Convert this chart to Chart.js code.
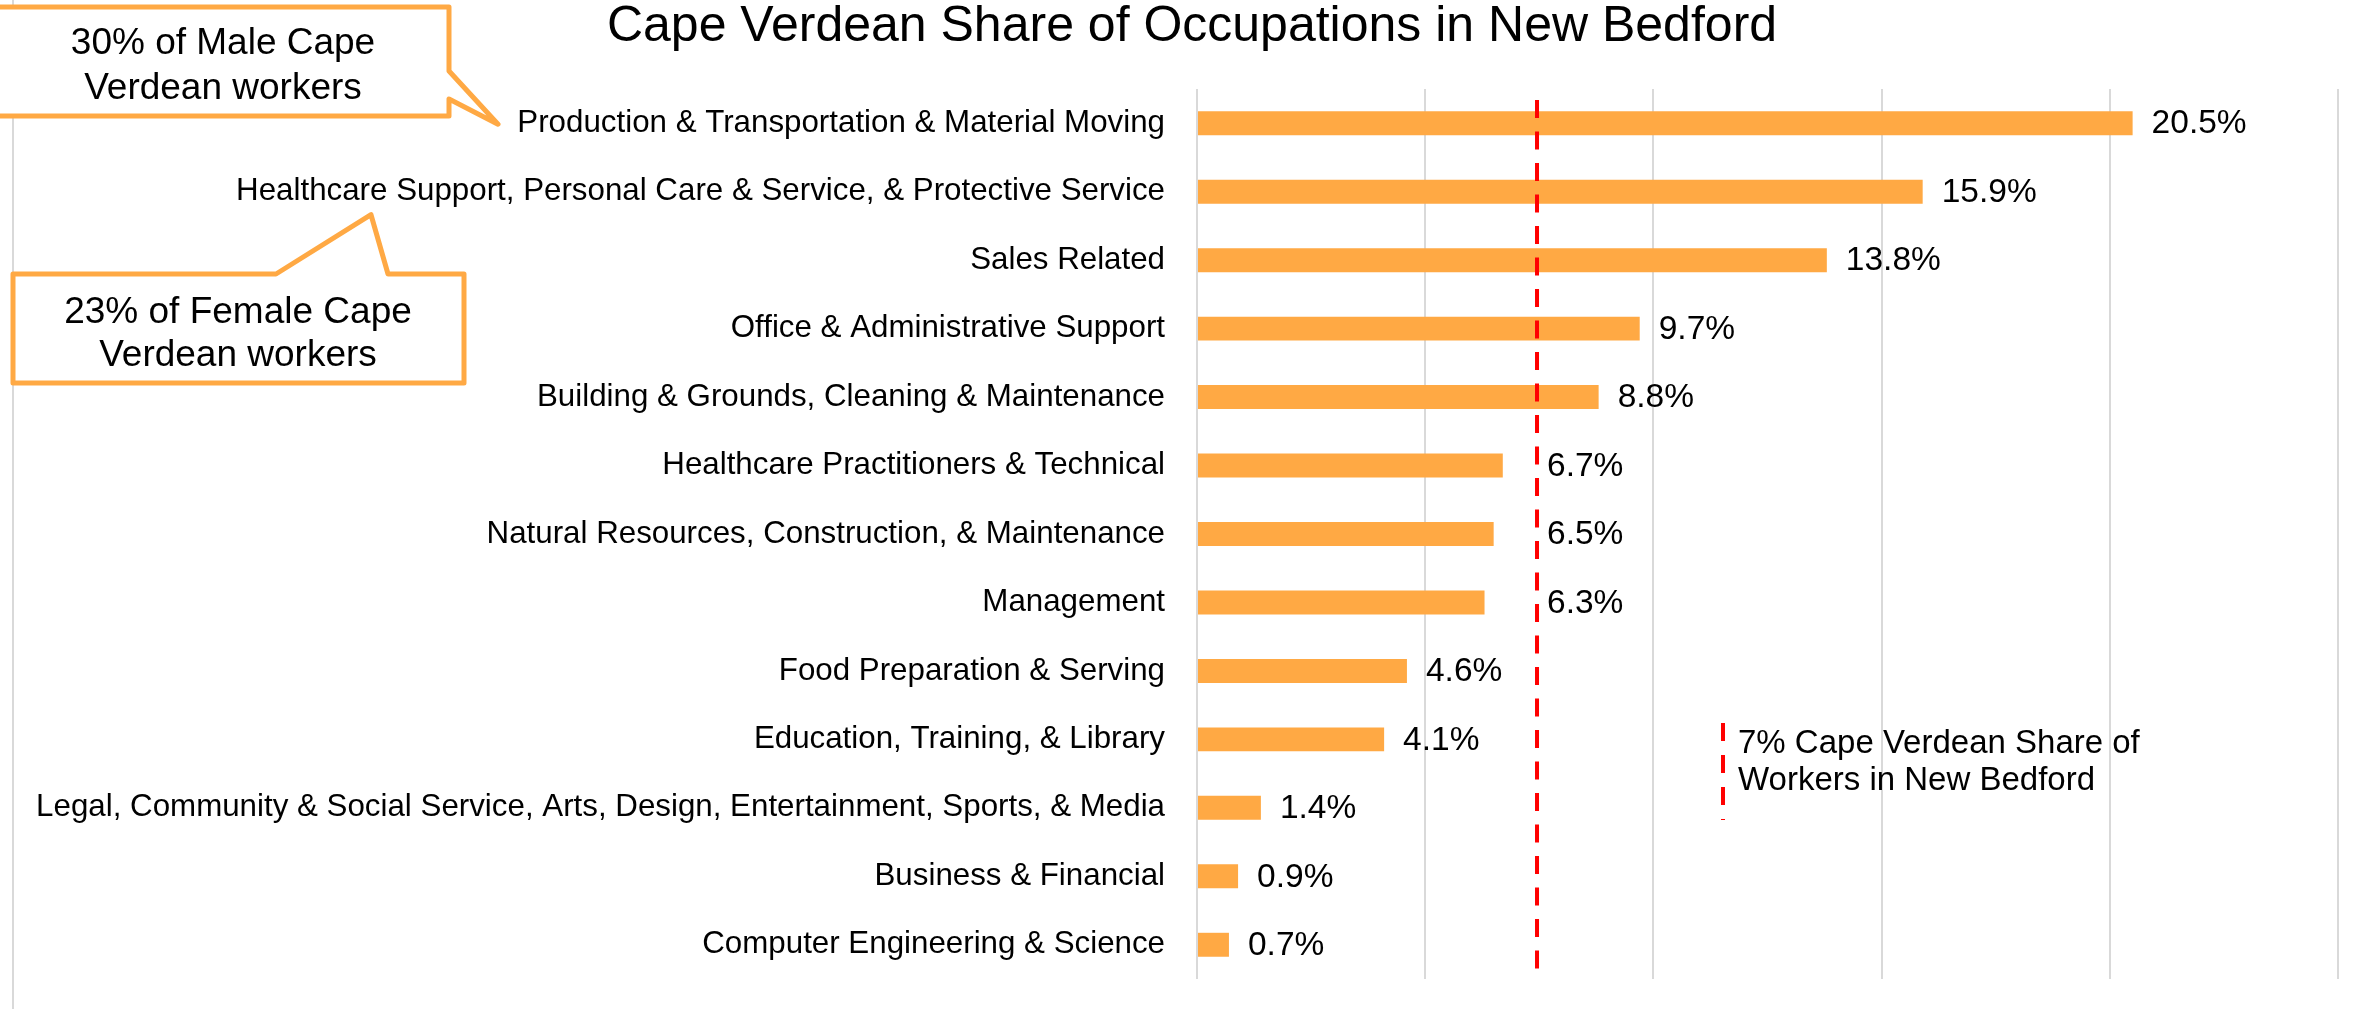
<!DOCTYPE html>
<html lang="en">
<head>
    <meta charset="UTF-8">
    <title>Cape Verdean Share of Occupations in New Bedford</title>
    <script src="https://cdn.jsdelivr.net/npm/chart.js"></script>
    <style>
        body {
            margin: 0;
            padding: 0;
            background: #fff;
        }
        .wrap {
            width: 2369px;
            height: 1009px;
        }
    </style>
</head>
<body>
    <div class="wrap">
        <canvas id="myChart" width="2369" height="1009"></canvas>
    </div>

    <script>
        const occupations = [
            "Production & Transportation & Material Moving",
            "Healthcare Support, Personal Care & Service, & Protective Service",
            "Sales Related",
            "Office & Administrative Support",
            "Building & Grounds, Cleaning & Maintenance",
            "Healthcare Practitioners & Technical",
            "Natural Resources, Construction, & Maintenance",
            "Management",
            "Food Preparation & Serving",
            "Education, Training, & Library",
            "Legal, Community & Social Service, Arts, Design, Entertainment, Sports, & Media",
            "Business & Financial",
            "Computer Engineering & Science"
        ];
        const shares = [20.5, 15.9, 13.8, 9.7, 8.8, 6.7, 6.5, 6.3, 4.6, 4.1, 1.4, 0.9, 0.7];
        const xTicks = [0, 5, 10, 15, 20, 25];

        // the dashed line sits a bit right of 7 in the picture
        const cityShare = 7.45;
        const cityShareText = ["7% Cape Verdean Share of", "Workers in New Bedford"];
        const titleText = "Cape Verdean Share of Occupations in New Bedford";
        const maleNote = ["30% of Male Cape", "Verdean workers"];
        const femaleNote = ["23% of Female Cape", "Verdean workers"];

        const FONT = '"Liberation Sans", Arial, sans-serif';
        const ORANGE = '#FFA944';

        function drawLines(ctx, lines, x, y0, step) {
            lines.forEach((t, i) => ctx.fillText(t, x, y0 + i * step));
        }

        const extras = {
            id: 'extras',
            beforeDraw(chart) {
                const ctx = chart.ctx;
                // left frame line
                ctx.save();
                ctx.strokeStyle = '#d9d9d9';
                ctx.lineWidth = 2;
                ctx.beginPath();
                ctx.moveTo(13, 0);
                ctx.lineTo(13, chart.height);
                ctx.stroke();
                ctx.restore();
            },
            afterDraw(chart) {
                const ctx = chart.ctx;
                const x = chart.scales.x;
                const y = chart.scales.y;
                const rx = x.getPixelForValue(cityShare);
                ctx.save();

                // title
                ctx.fillStyle = '#000';
                ctx.font = '50px ' + FONT;
                ctx.textAlign = 'center';
                ctx.textBaseline = 'alphabetic';
                ctx.fillText(titleText, 1192, 41);

                // value labels, pushed past the dashed line when they would touch it
                ctx.font = '33.5px ' + FONT;
                ctx.textAlign = 'left';
                ctx.textBaseline = 'middle';
                shares.forEach((v, i) => {
                    let lx = x.getPixelForValue(v) + 19;
                    if (lx < rx + 8 && lx + 70 > rx) lx = rx + 10;
                    ctx.fillText(v.toFixed(1) + '%', lx, y.getPixelForValue(i) + 1);
                });

                // city share dashed line
                ctx.strokeStyle = '#FF0000';
                ctx.lineWidth = 4;
                ctx.setLineDash([18, 13.5]);
                ctx.beginPath();
                ctx.moveTo(rx, chart.chartArea.top + 11);
                ctx.lineTo(rx, chart.chartArea.bottom - 4);
                ctx.stroke();

                // its note
                ctx.setLineDash([18, 14]);
                ctx.beginPath();
                ctx.moveTo(1723, 723);
                ctx.lineTo(1723, 820);
                ctx.stroke();
                ctx.setLineDash([]);
                ctx.font = '33px ' + FONT;
                ctx.textBaseline = 'alphabetic';
                drawLines(ctx, cityShareText, 1738, 753, 37);

                // callouts
                ctx.strokeStyle = ORANGE;
                ctx.fillStyle = '#fff';
                ctx.lineWidth = 5;
                ctx.lineJoin = 'round';
                const y0 = y.getPixelForValue(0);
                ctx.beginPath();
                ctx.moveTo(-10, 7);
                ctx.lineTo(449, 7);
                ctx.lineTo(449, 71);
                ctx.lineTo(498, y0 + 1);
                ctx.lineTo(449, 99);
                ctx.lineTo(449, 116);
                ctx.lineTo(-10, 116);
                ctx.closePath();
                ctx.fill();
                ctx.stroke();

                const y1 = y.getPixelForValue(1);
                ctx.beginPath();
                ctx.moveTo(13, 274);
                ctx.lineTo(276, 274);
                ctx.lineTo(371, y1 + 23);
                ctx.lineTo(388, 274);
                ctx.lineTo(464, 274);
                ctx.lineTo(464, 383);
                ctx.lineTo(13, 383);
                ctx.closePath();
                ctx.fill();
                ctx.stroke();

                ctx.fillStyle = '#000';
                ctx.font = '37px ' + FONT;
                ctx.textAlign = 'center';
                drawLines(ctx, maleNote, 223, 54, 45);
                drawLines(ctx, femaleNote, 238, 323, 43);

                ctx.restore();
            }
        };

        const ctx = document.getElementById('myChart').getContext('2d');
        const chart = new Chart(ctx, {
            type: 'bar',
            data: {
                labels: occupations,
                datasets: [{
                    data: shares,
                    backgroundColor: ORANGE,
                    borderWidth: 0,
                    barPercentage: 0.35,
                    categoryPercentage: 1
                }]
            },
            options: {
                indexAxis: 'y',
                responsive: false,
                animation: false,
                layout: {
                    padding: { top: 89, bottom: 0, right: 31, left: 0 }
                },
                scales: {
                    x: {
                        min: 0,
                        max: 25,
                        afterBuildTicks: (s) => { s.ticks = xTicks.map(v => ({ value: v })); },
                        afterFit: (s) => { s.height = 30; },
                        ticks: { display: false },
                        grid: { color: '#d9d9d9', lineWidth: 2, drawTicks: false },
                        border: { display: false }
                    },
                    y: {
                        afterFit: (s) => {
                            s.width = 1197;
                            s.paddingTop = 0;
                            s.paddingBottom = 0;
                        },
                        ticks: {
                            color: '#000',
                            padding: 32,
                            font: { family: FONT, size: 31.3 }
                        },
                        grid: { display: false, drawTicks: false },
                        border: { display: false }
                    }
                },
                plugins: {
                    legend: { display: false },
                    tooltip: { enabled: false }
                }
            },
            plugins: [extras]
        });
    </script>
</body>
</html>
